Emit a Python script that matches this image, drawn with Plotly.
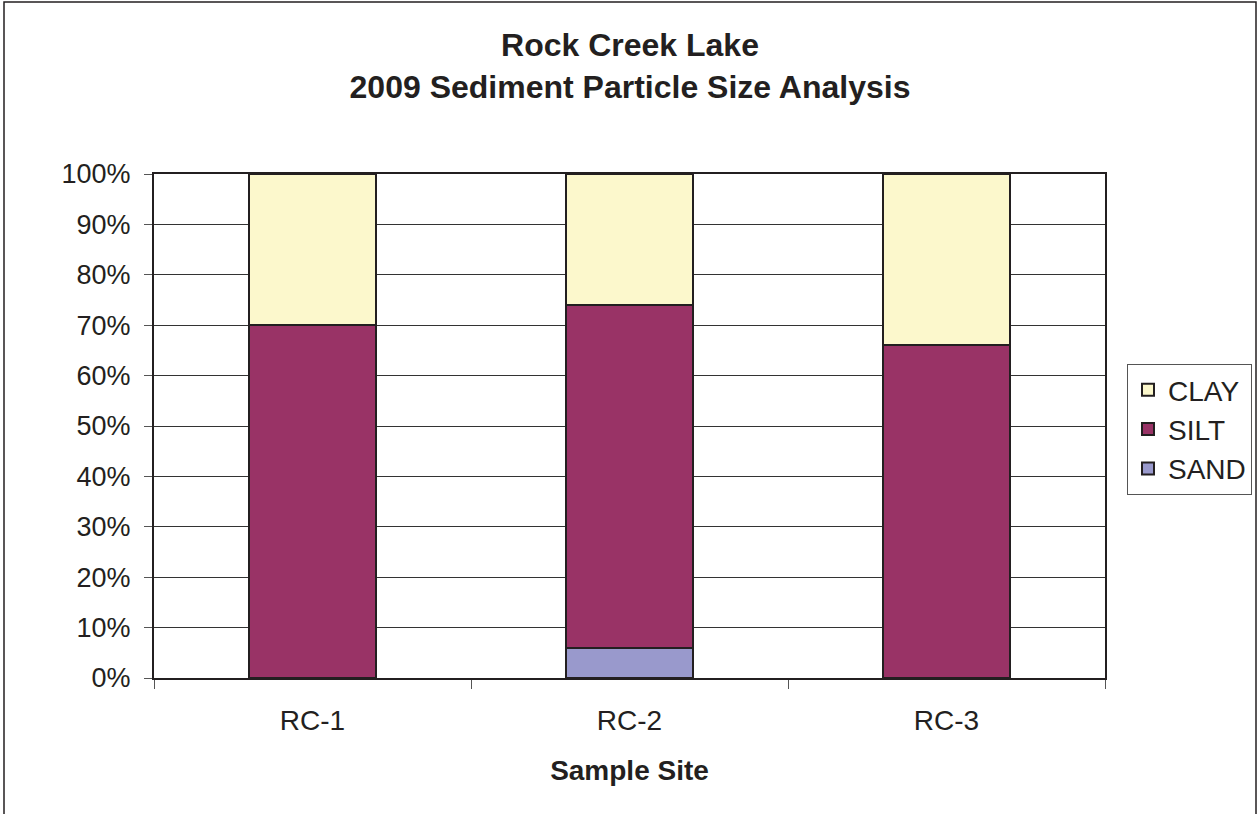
import plotly.graph_objects as go

sites = ["RC-1", "RC-2", "RC-3"]
sand = [0, 6, 0]
silt = [70, 68, 66]
clay = [30, 26, 34]

W, H = 1258, 814
L, R, T, B = 154, 1105, 174, 678

def px_x(p):
    return (p - L) / (R - L)

def px_y(p):
    return (B - p) / (B - T)

fig = go.Figure()
line = dict(color="#231F20", width=2)
fig.add_trace(go.Bar(name="SAND", x=sites, y=sand, marker=dict(color="#9999CC", line=line)))
fig.add_trace(go.Bar(name="SILT", x=sites, y=silt, marker=dict(color="#993366", line=line)))
fig.add_trace(go.Bar(name="CLAY", x=sites, y=clay, marker=dict(color="#FCF8CC", line=line)))

font = "Liberation Sans, Arial, sans-serif"
fig.update_layout(
    barmode="stack",
    bargap=0.6,
    width=W, height=H,
    margin=dict(l=L, r=W - R, t=T, b=H - B, autoexpand=False),
    paper_bgcolor="white", plot_bgcolor="white",
    font=dict(family=font, size=27, color="#231F20"),
    title=dict(
        text="<b>Rock Creek Lake<br>2009 Sediment Particle Size Analysis</b>",
        x=630 / W, xanchor="center", y=1 - 56 / H, yanchor="middle",
        font=dict(size=32, family=font, color="#231F20"),
    ),
    legend=dict(
        traceorder="reversed",
        x=px_x(1127), y=px_y(364), xanchor="left", yanchor="top",
        bordercolor="#555555", borderwidth=1,
        font=dict(size=28, family=font, color="#231F20"),
        itemsizing="constant", itemwidth=30, tracegroupgap=0,
    ),
    showlegend=True,
)
fig.update_xaxes(
    showline=True, linecolor="#231F20", linewidth=2, mirror=True,
    tickson="boundaries", ticks="outside", ticklen=9, tickcolor="#555555",
    ticklabelstandoff=16,
    showgrid=False,
    title=dict(text="<b>Sample Site</b>", font=dict(size=28, family=font), standoff=26),
    tickfont=dict(size=28),
)
fig.update_yaxes(
    range=[0, 100], dtick=10, ticksuffix="%",
    showline=True, linecolor="#231F20", linewidth=2, mirror=True,
    ticks="outside", ticklen=8, tickcolor="#555555",
    ticklabelstandoff=8,
    showgrid=True, gridcolor="#333333", gridwidth=1,
    tickfont=dict(size=27),
)
fig.add_shape(
    type="rect", xref="paper", yref="paper",
    x0=px_x(4), x1=px_x(1256), y0=px_y(840), y1=px_y(2),
    line=dict(color="#231F20", width=1.5), fillcolor="rgba(0,0,0,0)", layer="below",
)
fig.write_html(
    "out.html",
    config={"displayModeBar": False},
    post_script="document.body.style.margin='0';document.body.style.overflow='hidden';",
)
